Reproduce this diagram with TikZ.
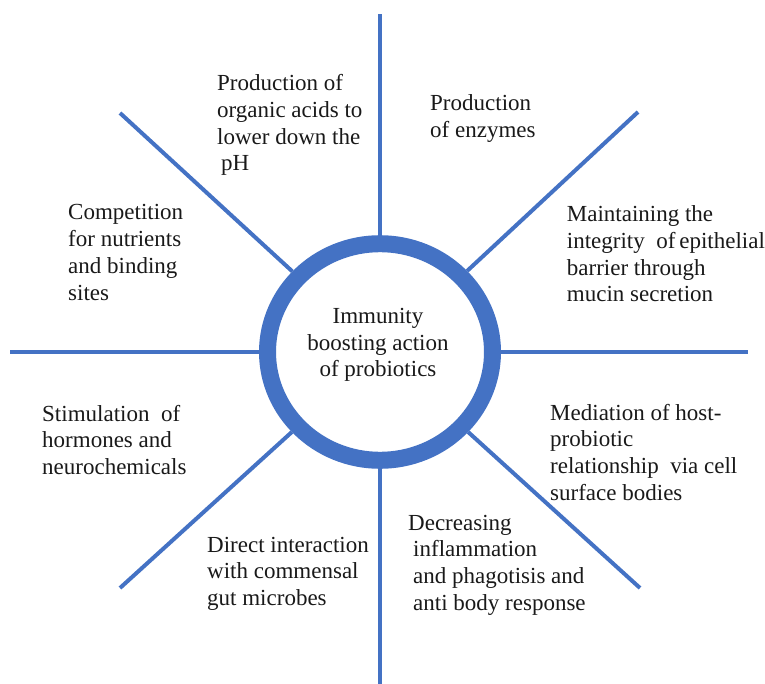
\documentclass[tikz,border=0pt]{standalone}
\usepackage{fontspec}
\setmainfont{Liberation Serif}
\usetikzlibrary{shapes.geometric}
\definecolor{spokeblue}{HTML}{4472C4}
% text blocks sit on the baseline of their last line
\tikzset{
  spoke/.style={draw=spokeblue, line width=4pt},
  blurb/.style={anchor=base west, align=left, inner sep=0pt, text=black!90,
    font=\fontsize{23}{26.7}\selectfont}
}
\begin{document}
\begin{tikzpicture}[x=1pt,y=-1pt]
\useasboundingbox (0,0) rectangle (765,684);
\node[ellipse, draw=spokeblue, line width=17pt, fill=white, inner sep=0pt,
  minimum width=225pt, minimum height=216.6pt] (hub) at (380,352) {};
\foreach \name/\x/\y in {n/380/14, ne/638/112, e/748/352, se/640/588,
                        s/380/684, sw/120/588, w/10/352, nw/120/113}
  \coordinate (\name) at (\x,\y);
\foreach \name in {n,ne,e,se,s,sw,w,nw}
  \draw[spoke] (hub) -- (\name);
\node[blurb, anchor=base, align=center] (hubtext) at (378,376.7) {Immunity\\boosting action\\of probiotics};
\node[blurb] (acids) at (217,170.8) {Production of\\organic acids to\\lower down the\\\hspace{4pt}pH};
\node[blurb] (enzymes) at (430,137.7) {Production\\of enzymes};
\node[blurb] (nutrients) at (68,300.1) {Competition\\for nutrients\\and binding\\sites};
\node[blurb] (mucin) at (566.7,301.8) {Maintaining~the\\integrity~~of\,epithelial\\barrier through\\mucin secretion};
\node[blurb] (hormones) at (42,474.4) {Stimulation~~of\\hormones and\\neurochemicals};
\node[blurb] (host) at (550,500.1) {Mediation of host-\\probiotic\\relationship~~via cell\\surface bodies};
\node[blurb] (microbes) at (207,605.4) {Direct interaction\\with commensal\\gut microbes};
\node[blurb] (inflammation) at (408,610.1) {Decreasing\\\hspace{5pt}inflammation\\\hspace{5pt}and phagotisis and\\\hspace{5pt}anti body response};
\end{tikzpicture}
\end{document}
